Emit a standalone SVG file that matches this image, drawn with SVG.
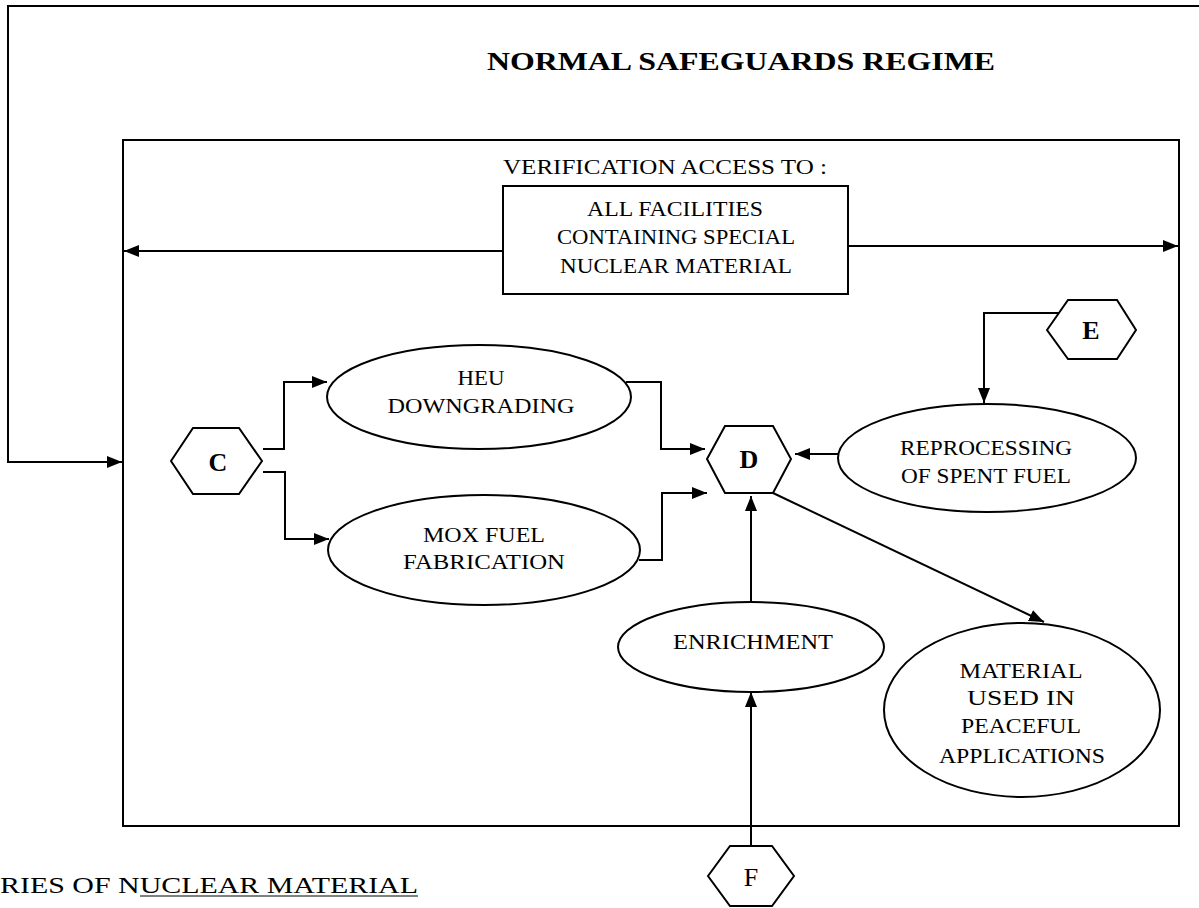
<svg xmlns="http://www.w3.org/2000/svg" width="1199" height="908" viewBox="0 0 1199 908">
<defs>
<marker id="ah" viewBox="0 0 15 12" refX="15" refY="6" markerWidth="15" markerHeight="12" markerUnits="userSpaceOnUse" orient="auto">
<path d="M0,0 L15,6 L0,12 Z" fill="#000"/>
</marker>
</defs>
<style>
.ln{fill:none;stroke:#000;stroke-width:2}
.sh{fill:#fff;stroke:#000;stroke-width:2}
.t{font-family:"Liberation Serif","Times New Roman",serif;fill:#000;text-anchor:middle;font-size:22px}
.tb{font-family:"Liberation Serif","Times New Roman",serif;fill:#000;text-anchor:middle;font-weight:bold}
.hx{font-family:"Liberation Serif","Times New Roman",serif;fill:#000;text-anchor:middle;font-weight:bold;font-size:26px}
</style>
<rect width="1199" height="908" fill="#fff"/>
<text class="tb" x="741" y="70" font-size="26" textLength="508" lengthAdjust="spacingAndGlyphs">NORMAL SAFEGUARDS REGIME</text>
<g id="regime-box">
<rect class="ln" x="123" y="140" width="1056" height="686"/>
<text class="t" x="665" y="174" textLength="324" lengthAdjust="spacingAndGlyphs">VERIFICATION ACCESS TO :</text>
</g>
<g id="facilities">
<rect class="sh" x="503" y="186" width="345" height="108"/>
<text class="t" x="675" y="216" textLength="176" lengthAdjust="spacingAndGlyphs">ALL FACILITIES</text>
<text class="t" x="676" y="244" textLength="238" lengthAdjust="spacingAndGlyphs">CONTAINING SPECIAL</text>
<text class="t" x="676" y="273" textLength="232" lengthAdjust="spacingAndGlyphs">NUCLEAR MATERIAL</text>
</g>
<g id="C">
<polygon class="sh" points="171,461 193,428 239,428 262,461 239,494 193,494"/>
<text class="hx" x="218" y="471">C</text>
</g>
<g id="D">
<polygon class="sh" points="707,459 725,426 773,426 791,459 773,493 725,493"/>
<text class="hx" x="749" y="468">D</text>
</g>
<g id="E">
<polygon class="sh" points="1047,330 1068,300 1117,300 1136,330 1117,359 1068,359"/>
<text class="hx" x="1091" y="339">E</text>
</g>
<g id="F">
<polygon class="sh" points="708,876 730,846 772,846 794,876 772,906 730,906"/>
<text class="t" x="751" y="886" font-size="26" style="font-size:26px">F</text>
</g>
<g id="heu">
<ellipse class="sh" cx="479" cy="397" rx="152" ry="52"/>
<text class="t" x="481" y="385" textLength="47" lengthAdjust="spacingAndGlyphs">HEU</text>
<text class="t" x="481" y="413" textLength="187" lengthAdjust="spacingAndGlyphs">DOWNGRADING</text>
</g>
<g id="mox">
<ellipse class="sh" cx="484" cy="550" rx="156" ry="55"/>
<text class="t" x="484" y="542" textLength="122" lengthAdjust="spacingAndGlyphs">MOX FUEL</text>
<text class="t" x="484" y="569" textLength="162" lengthAdjust="spacingAndGlyphs">FABRICATION</text>
</g>
<g id="reprocessing">
<ellipse class="sh" cx="987" cy="458" rx="149" ry="54"/>
<text class="t" x="986" y="455" textLength="172" lengthAdjust="spacingAndGlyphs">REPROCESSING</text>
<text class="t" x="986" y="483" textLength="170" lengthAdjust="spacingAndGlyphs">OF SPENT FUEL</text>
</g>
<g id="enrichment">
<ellipse class="sh" cx="751" cy="647" rx="133" ry="45"/>
<text class="t" x="753" y="649" textLength="160" lengthAdjust="spacingAndGlyphs">ENRICHMENT</text>
</g>
<g id="material">
<ellipse class="sh" cx="1022" cy="710" rx="138" ry="87"/>
<text class="t" x="1021" y="678" textLength="123" lengthAdjust="spacingAndGlyphs">MATERIAL</text>
<text class="t" x="1021" y="705" textLength="108" lengthAdjust="spacingAndGlyphs">USED IN</text>
<text class="t" x="1021" y="733" textLength="120" lengthAdjust="spacingAndGlyphs">PEACEFUL</text>
<text class="t" x="1022" y="763" textLength="166" lengthAdjust="spacingAndGlyphs">APPLICATIONS</text>
</g>
<g id="connectors">
<path class="ln" d="M1199,6 L8,6 L8,462 L122,462" marker-end="url(#ah)"/>
<path class="ln" d="M503,251 L124,251" marker-end="url(#ah)"/>
<path class="ln" d="M848,246 L1178,246" marker-end="url(#ah)"/>
<path class="ln" d="M263,449 L284,449 L284,382 L327,382" marker-end="url(#ah)"/>
<path class="ln" d="M263,472 L285,472 L285,539 L329,539" marker-end="url(#ah)"/>
<path class="ln" d="M626,382 L661,382 L661,449 L705,449" marker-end="url(#ah)"/>
<path class="ln" d="M639,560 L662,560 L662,493 L707,493" marker-end="url(#ah)"/>
<path class="ln" d="M838,454 L795,454" marker-end="url(#ah)"/>
<path class="ln" d="M1059,313 L984,313 L984,403" marker-end="url(#ah)"/>
<path class="ln" d="M751,602 L751,496" marker-end="url(#ah)"/>
<path class="ln" d="M751,846 L751,692" marker-end="url(#ah)"/>
<path class="ln" d="M773,493 L1044,622" marker-end="url(#ah)"/>
</g>
<text x="0" y="893" font-family="'Liberation Serif','Times New Roman',serif" font-size="23" textLength="418" lengthAdjust="spacingAndGlyphs">RIES OF NUCLEAR MATERIAL</text>
<line x1="140" y1="896" x2="418" y2="896" stroke="#000" stroke-width="1"/>
</svg>
